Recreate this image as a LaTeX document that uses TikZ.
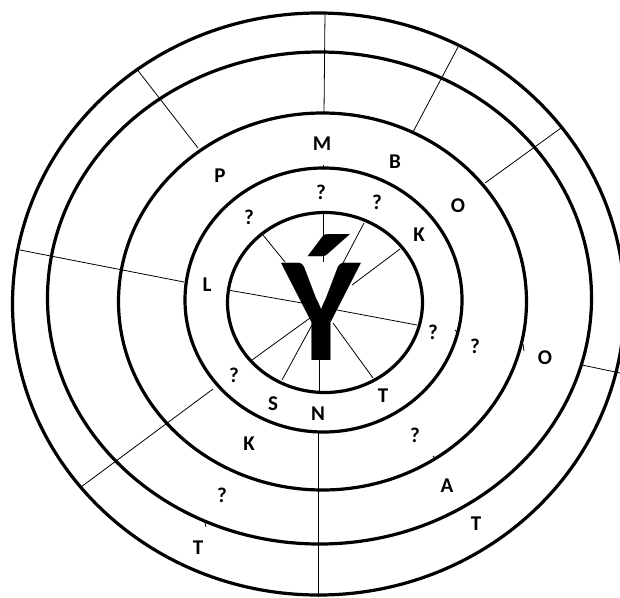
\documentclass[tikz,border=0pt]{standalone}
\usepackage{fontspec}
\setmainfont{Carlito}
\begin{document}
\begin{tikzpicture}[x=1pt,y=-1pt,
  ring/.style={line width=3.2pt},
  spoke/.style={line width=0.8pt},
  tick/.style={line width=0.8pt},
  lbl/.style={font=\fontsize{21}{21}\selectfont\bfseries, inner sep=0pt, anchor=center}]
\useasboundingbox (0,0) rectangle (620,597);
\clip (0,0) rectangle (620,597);
% rings
\draw[ring] (325,302.5) ellipse [x radius=97.5, y radius=90];
\draw[ring] (323.5,300) ellipse [x radius=138.5, y radius=132];
\draw[ring] (322.5,301.5) ellipse [x radius=204, y radius=188.5];
\draw[ring] (319.5,298) ellipse [x radius=272, y radius=246];
\draw[ring] (318.5,304) ellipse [x radius=306, y radius=291];
% outer spokes
\draw[spoke] (325,13) -- (324,113);
\draw[spoke] (136,68) -- (198,148);
\draw[spoke] (458,47) -- (413,132);
\draw[spoke] (561,128) -- (485,183);
\draw[spoke] (20,250) -- (184,282);
\draw[spoke] (81,487) -- (213,389);
\draw[spoke] (582,365) -- (620,373);
\draw[spoke] (318,432) -- (318,597);
% inner spokes
\draw[spoke] (263,235) -- (285,262);
\draw[spoke] (323,212) -- (323,262);
\draw[spoke] (364,223) -- (343,263);
\draw[spoke] (400,249) -- (352,285);
\draw[spoke] (228,290) -- (302,303);
\draw[spoke] (417,325) -- (337,310);
\draw[spoke] (252,360) -- (310,318);
\draw[spoke] (282,380) -- (312,325);
\draw[spoke] (319,392) -- (319,357);
\draw[spoke] (373,378) -- (333,323);
% small ticks
\draw[tick] (323,165) -- (323,170);
\draw[tick] (455,330) -- (458,333);
\draw[tick] (523,344) -- (524,351);
\draw[tick] (433,456) -- (435,458);
\draw[tick] (205,523) -- (206,527);
% central letter
\node[inner sep=0pt, anchor=base, font=\fontsize{150}{150}\selectfont\bfseries] (Y) at (321,360) {Ý};
% labels
\node[lbl] (m) at (322,144) {M};
\node[lbl] (b) at (395,162) {B};
\node[lbl] (p) at (220,176) {P};
\node[lbl] (o1) at (458,206) {O};
\node[lbl] (q1) at (321,192) {?};
\node[lbl] (q2) at (377,202) {?};
\node[lbl] (q3) at (249,217) {?};
\node[lbl] (k1) at (419,235) {K};
\node[lbl] (l) at (207,285) {L};
\node[lbl] (q4) at (433,332) {?};
\node[lbl] (q5) at (475,346) {?};
\node[lbl] (o2) at (545,358) {O};
\node[lbl] (q6) at (234,375) {?};
\node[lbl] (s) at (273,404) {S};
\node[lbl] (n) at (318,414) {N};
\node[lbl] (t1) at (383,396) {T};
\node[lbl] (q7) at (415,435) {?};
\node[lbl] (k2) at (249,444) {K};
\node[lbl] (a) at (447,486) {A};
\node[lbl] (q8) at (222,495) {?};
\node[lbl] (t2) at (476,524) {T};
\node[lbl] (t3) at (198,548) {T};
\end{tikzpicture}
\end{document}
